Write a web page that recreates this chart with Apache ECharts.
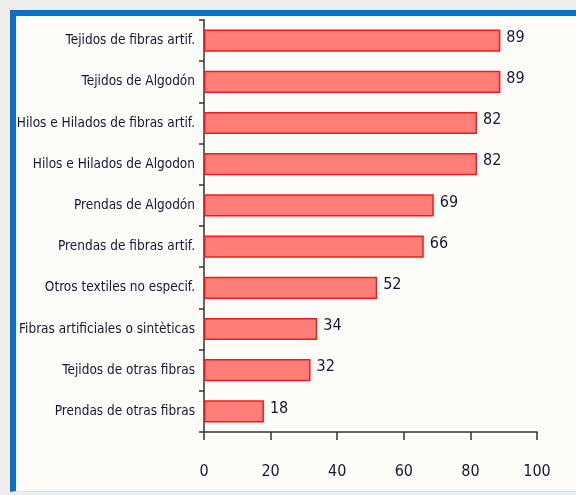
<!DOCTYPE html>
<html>
<head>
<meta charset="utf-8">
<script src="https://cdn.jsdelivr.net/npm/echarts@6/dist/echarts.min.js"></script>
<style>
	html, body { margin: 0; padding: 0; background: #eeeeec; }
	#frame {
		position: absolute; left: 10px; top: 10px; width: 566px; height: 482px;
		border-left: 6px solid #0b6fc3; border-top: 6px solid #0b6fc3;
		border-bottom: 1px solid #d8e6f4;
		background: #fdfcf8; box-sizing: border-box;
	}
	#main { position: absolute; left: 0; top: 0; width: 576px; height: 495px; }
</style>
</head>
<body>
<div id="frame"></div>
<div id="main"></div>
<script>
	// categorias (de arriba hacia abajo)
	var categorias = [
		'Tejidos de fibras artif.',
		'Tejidos de Algodón',
		'Hilos e Hilados de fibras artif.',
		'Hilos e Hilados de Algodon',
		'Prendas de Algodón',
		'Prendas de fibras artif.',
		'Otros textiles no especif.',
		'Fibras artificiales o sintèticas',
		'Tejidos de otras fibras',
		'Prendas de otras fibras'
	];
	var valores = [89, 89, 82, 82, 69, 66, 52, 34, 32, 18];
	var ticksX = [0, 20, 40, 60, 80, 100];

	var fuente = '"DejaVu Sans Condensed", "Liberation Sans Narrow", sans-serif';
	var myChart = echarts.init(document.getElementById('main'));

	var option = {
		animation: false,
		grid: { left: 204, right: 39, top: 20, bottom: 63 },
		xAxis: {
			type: 'value',
			min: ticksX[0],
			max: ticksX[ticksX.length - 1],
			interval: 20,
			splitLine: { show: false },
			axisLine: { show: true, lineStyle: { color: '#333', width: 1.5 } },
			axisTick: { show: true, length: 8, lineStyle: { color: '#333', width: 1.5 } },
			axisLabel: { margin: 32, color: '#16163a', fontSize: 16, fontFamily: fuente }
		},
		yAxis: {
			type: 'category',
			inverse: true,
			data: categorias,
			axisLine: { show: true, lineStyle: { color: '#333', width: 1.5 } },
			axisTick: { show: true, length: 5, lineStyle: { color: '#333', width: 1.5 } },
			axisLabel: { margin: 9, color: '#16163a', fontSize: 13.5, fontFamily: fuente }
		},
		series: [{
			type: 'bar',
			data: valores,
			barCategoryGap: '46%',
			itemStyle: { color: '#ff7f78', borderColor: '#f01c1c', borderWidth: 1.5 },
			label: {
				show: true,
				position: 'right',
				distance: 6,
				offset: [0, -3],
				color: '#16163a',
				fontSize: 16,
				fontFamily: fuente
			}
		}]
	};
	myChart.setOption(option);
</script>
</body>
</html>
